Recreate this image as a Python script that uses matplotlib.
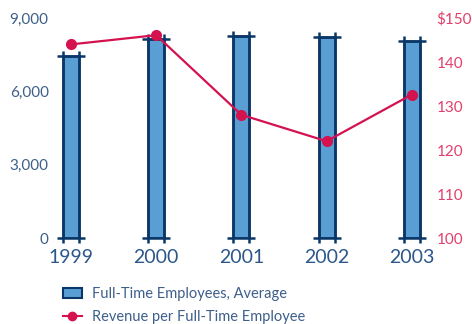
import matplotlib.pyplot as plt
from matplotlib.patches import Patch
from matplotlib.lines import Line2D

#------------------------------DATA--------------------------------------------
years = ['1999', '2000', '2001', '2002', '2003']
employees = [7450, 8130, 8250, 8210, 8050]      # full-time employees, average
revenue = [144.0, 146.1, 128.0, 122.0, 132.6]   # revenue per employee ($K)
emp_ticks = [0, 3000, 6000, 9000]
emp_labels = ['0', '3,000', '6,000', '9,000']
rev_ticks = [100, 110, 120, 130, 140, 150]
rev_labels = ['100', '110', '120', '130', '140', '$150']
#------------------------------------------------------------------------------

navy = '#0b3668'
fill = '#5a9fd4'
left_col = '#3d5f8a'
right_col = '#e0406c'
line_col = '#d4124f'

plt.rcParams['font.family'] = ['Lato', 'DejaVu Sans']

fig = plt.figure(figsize=(4.72, 3.24), dpi=100)
ax = fig.add_axes([57/472, 86/324, 371/472, 220/324])

x = list(range(len(years)))
bw = 0.19
cap = 0.33
ext = 200

ax.bar(x, employees, width=bw, color=fill, edgecolor=navy, linewidth=1.8, zorder=2)
for xi, h in zip(x, employees):
    # caps top and bottom, with the bar edges poking through
    ax.hlines([0, h], xi - cap/2, xi + cap/2, color=navy, linewidth=1.8, zorder=3, clip_on=False)
    ax.vlines([xi - bw/2, xi + bw/2], -ext, h + ext, color=navy, linewidth=1.8, zorder=3, clip_on=False)

ax.set_xlim(-0.164, 4.19)
ax.set_ylim(0, 9000)
ax.set_yticks(emp_ticks)
ax.set_yticklabels(emp_labels, color=left_col, fontsize=11)
ax.set_xticks(x)
ax.set_xticklabels(years, color='#2b578a', fontsize=14)
ax.tick_params(axis='both', length=0)
ax.tick_params(axis='x', pad=8)
ax.tick_params(axis='y', pad=6)
for s in ax.spines.values():
    s.set_visible(False)

ax2 = ax.twinx()
ax2.plot(x, revenue, color=line_col, linewidth=1.6, marker='o', markersize=7, zorder=4, clip_on=False)
ax2.set_ylim(100, 150)
ax2.set_yticks(rev_ticks)
ax2.set_yticklabels(rev_labels, color=right_col, fontsize=11)
ax2.tick_params(axis='y', length=0, pad=6)
for s in ax2.spines.values():
    s.set_visible(False)

handles = [Patch(facecolor=fill, edgecolor=navy, linewidth=1.5),
           Line2D([0], [0], color=line_col, linewidth=1.5, marker='o', markersize=6)]
labels = ['Full-Time Employees, Average', 'Revenue per Full-Time Employee']
fig.legend(handles, labels, loc='lower left', bbox_to_anchor=(0.105, -0.04),
           frameon=False, fontsize=10.5, labelcolor=left_col, handlelength=1.3,
           handletextpad=0.7, labelspacing=0.6)

fig.savefig('out.png', dpi=100)
